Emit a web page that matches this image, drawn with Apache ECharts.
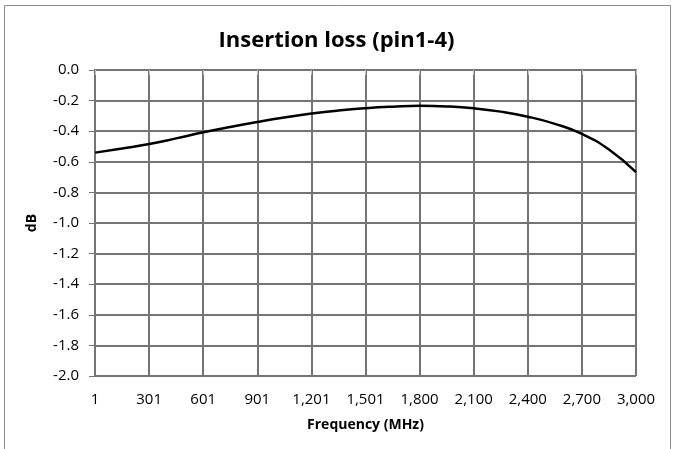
<!DOCTYPE html>
<html>
<head>
<meta charset="utf-8">
<script src="https://cdn.jsdelivr.net/npm/echarts@6/dist/echarts.min.js"></script>
<style>
html,body{margin:0;padding:0;background:#fff;}
#chart{width:673px;height:449px;}
</style>
</head>
<body>
<div id="chart"></div>
<script>
// Data
var tickLabels = ['1','301','601','901','1,201','1,501','1,800','2,100','2,400','2,700','3,000'];
var freqMHz = [1,150,301,450,601,750,901,1050,1201,1350,1501,1650,1800,1950,2100,2250,2400,2550,2700,2850,3000];
var lossDb = [-0.540,-0.513,-0.484,-0.447,-0.407,-0.372,-0.340,-0.311,-0.285,-0.265,-0.250,-0.240,-0.234,-0.238,-0.250,-0.272,-0.305,-0.352,-0.418,-0.520,-0.668];

var seriesData = freqMHz.map(function(f,i){return [f, lossDb[i]];});

var chart = echarts.init(document.getElementById('chart'));
var gridColor = '#747474';
chart.setOption({
  animation:false,
  backgroundColor:'#fff',
  graphic:[{
    type:'rect',
    shape:{x:4.5,y:5.5,width:666,height:470},
    style:{fill:'none',stroke:'#8c8c8c',lineWidth:1},
    silent:true
  }],
  title:{
    text:'Insertion loss (pin1-4)',
    left:'center',
    top:25,
    textStyle:{fontFamily:'Open Sans',fontWeight:'bold',fontSize:22,color:'#000'}
  },
  grid:{left:95,right:37,top:70,bottom:73,containLabel:false},
  xAxis:{
    type:'value',
    min:0,max:3000,interval:300,
    name:'Frequency (MHz)',
    nameLocation:'middle',
    nameGap:42,
    nameTextStyle:{fontFamily:'Open Sans',fontWeight:'bold',fontSize:14,color:'#000'},
    axisLine:{show:true,lineStyle:{color:gridColor,width:2}},
    axisTick:{show:true,length:5,lineStyle:{color:'#bfbfbf',width:1}},
    axisLabel:{
      margin:16,
      fontFamily:'Open Sans',fontSize:15,color:'#000',
      formatter:function(v){return tickLabels[Math.round(v/300)];}
    },
    splitLine:{show:true,lineStyle:{color:gridColor,width:2}}
  },
  yAxis:{
    type:'value',
    min:-2,max:0,interval:0.2,
    name:'dB',
    nameLocation:'middle',
    nameGap:56,
    nameRotate:90,
    nameTextStyle:{fontFamily:'Open Sans',fontWeight:'bold',fontSize:14,color:'#000'},
    axisLine:{show:true,lineStyle:{color:gridColor,width:2}},
    axisTick:{show:true,length:6,lineStyle:{color:gridColor,width:1}},
    axisLabel:{
      margin:16,
      fontFamily:'Open Sans',fontSize:15,color:'#000',
      formatter:function(v){return (Math.abs(v)<1e-9?0:v).toFixed(1);}
    },
    splitLine:{show:true,lineStyle:{color:gridColor,width:2}}
  },
  series:[{
    type:'line',
    data:seriesData,
    smooth:true,
    showSymbol:false,
    lineStyle:{color:'#000',width:2.5}
  }]
});
</script>
</body>
</html>
